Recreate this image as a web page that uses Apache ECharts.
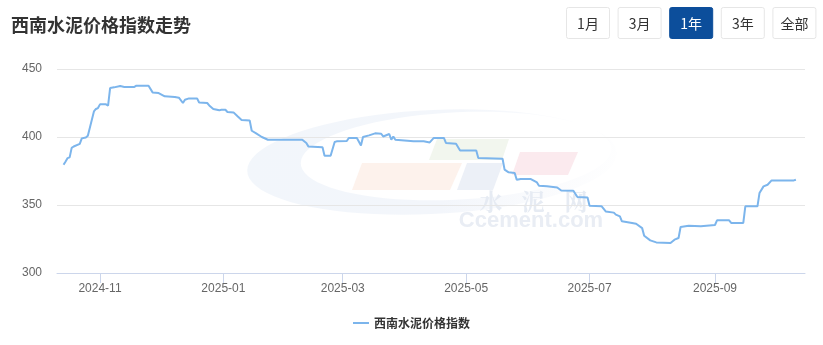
<!DOCTYPE html>
<html>
<head>
<meta charset="utf-8">
<script src="https://cdn.jsdelivr.net/npm/echarts@6/dist/echarts.min.js"></script>
<style>
html,body{margin:0;padding:0;background:#fff;}
#chart{width:823px;height:345px;}
</style>
</head>
<body>
<div id="chart"></div>
<script>
// ---- data ----
const seriesName = '西南水泥价格指数';
const titleText = '西南水泥价格指数走势';
const buttonLabels = ['1月', '3月', '1年', '3年', '全部'];
const activeButton = '1年';
const dates = [
 '2024-10-14','2024-10-15','2024-10-16','2024-10-17','2024-10-18','2024-10-19','2024-10-22','2024-10-23','2024-10-25','2024-10-26',
 '2024-10-29','2024-10-30','2024-10-31','2024-11-01','2024-11-04','2024-11-05','2024-11-06','2024-11-08','2024-11-11','2024-11-13',
 '2024-11-18','2024-11-19','2024-11-25','2024-11-27','2024-11-30','2024-12-03','2024-12-08','2024-12-10','2024-12-12','2024-12-13',
 '2024-12-15','2024-12-19','2024-12-20','2024-12-24','2024-12-25','2024-12-27','2024-12-30','2024-12-31','2025-01-02','2025-01-03',
 '2025-01-06','2025-01-08','2025-01-10','2025-01-14','2025-01-15','2025-01-17','2025-01-20','2025-01-23','2025-02-09','2025-02-11',
 '2025-02-12','2025-02-19','2025-02-20','2025-02-23','2025-02-25','2025-02-26','2025-03-03','2025-03-04','2025-03-08','2025-03-10',
 '2025-03-11','2025-03-14','2025-03-17','2025-03-20','2025-03-21','2025-03-24','2025-03-25','2025-03-26','2025-03-27','2025-04-05',
 '2025-04-10','2025-04-13','2025-04-15','2025-04-20','2025-04-21','2025-04-26','2025-04-28','2025-05-06','2025-05-07','2025-05-19',
 '2025-05-20','2025-05-22','2025-05-25','2025-05-26','2025-05-28','2025-06-02','2025-06-05','2025-06-06','2025-06-10','2025-06-15',
 '2025-06-17','2025-06-23','2025-06-25','2025-06-30','2025-07-01','2025-07-07','2025-07-09','2025-07-13','2025-07-14','2025-07-16',
 '2025-07-17','2025-07-22','2025-07-24','2025-07-27','2025-07-28','2025-07-31','2025-08-03','2025-08-10','2025-08-12','2025-08-14',
 '2025-08-15','2025-08-19','2025-08-25','2025-09-01','2025-09-02','2025-09-08','2025-09-09','2025-09-15','2025-09-16','2025-09-22',
 '2025-09-23','2025-09-25','2025-09-27','2025-09-29','2025-10-10','2025-10-11'
];
const values = [
 379.6,382,384.5,385,392,393,395,399,399.7,401,
 418.8,420.6,421.3,424,424,423,436,436.5,437.5,436.8,
 436.8,437.7,437.7,432.8,432.3,429.9,429.4,428.9,425,427.4,
 428.4,428.4,425.4,425,423.2,420.6,419.6,420,420,418.4,
 418.1,415.2,412.5,412.2,404.6,402.9,400,398,398,395.6,
 393.1,392.4,386.2,386.2,396.3,396.8,397,399.3,399.3,393.8,
 400,401.2,402.7,402.4,400.4,402.2,398,400.4,398,396.8,
 396.8,396,399.3,399.3,395.6,395.1,390,390,384.5,384,
 376,374,373.5,368.6,369.1,369.1,366.6,364.2,363.7,362.9,
 360.7,360.5,355.9,355.6,349.5,349,345.3,344.4,342.9,341.6,
 338,336.8,336.2,333,327.4,324,322.5,322,324.5,325.7,
 333.8,334.8,334.3,335.3,338.7,338.7,336.8,336.8,349,349,
 358.8,363.7,364.9,368.1,368.1,368.6
];
const xTickMonths = ['2024-11','2025-01','2025-03','2025-05','2025-07','2025-09'];
const yMin = 300, yMax = 450, yStep = 50;

// ---- helpers ----
function ts(s){ const p = s.split(/[- :]/).map(Number); return new Date(p[0], p[1]-1, p[2]||1, p[3]||0, p[4]||0).getTime(); }
const tickValues = xTickMonths.map(m => ts(m + '-01'));
const seriesData = dates.map((d, i) => [ts(d), values[i]]);

// watermark crescent
function crescentPoints(){
  const rx = 185, ry = 52, tipT = -35 * Math.PI / 180, k = 0.84;
  const P = [rx * Math.cos(tipT), ry * Math.sin(tipT)];
  const pts = [];
  const n = 80;
  for (let i = 0; i <= n; i++) {
    const t = tipT - (i / n) * Math.PI * 2;
    pts.push([rx * Math.cos(t), ry * Math.sin(t)]);
  }
  for (let i = n; i >= 0; i--) {
    const t = tipT - (i / n) * Math.PI * 2;
    const x = rx * Math.cos(t), y = ry * Math.sin(t);
    pts.push([P[0] + k * (x - P[0]), P[1] + k * (y - P[1])]);
  }
  return pts;
}

const graphics = [];
graphics.push({
  type: 'polygon', z: -10, silent: true,
  x: 432, y: 162, rotation: 0.05,
  shape: { points: crescentPoints() },
  style: {
    fill: {
      type: 'linear', x: 0, y: 0, x2: 1, y2: 1,
      colorStops: [
        { offset: 0, color: '#f2f6fb' },
        { offset: 0.55, color: '#f3f6fb' },
        { offset: 0.8, color: '#fafbfd' },
        { offset: 1, color: '#ffffff' }
      ]
    }
  }
});
const paras = [
  { pts: [[362,163],[462,163],[450,190],[352,190]], c: '#fdf2ec' },
  { pts: [[467,163],[503,163],[493,190],[457,190]], c: '#ecf0f7' },
  { pts: [[437,139],[509,139],[502,160],[429,160]], c: '#f2f6ee' },
  { pts: [[520,152],[578,152],[568,175],[512,175]], c: '#fbeaee' }
];
paras.forEach(p => graphics.push({ type: 'polygon', z: -9, silent: true, shape: { points: p.pts }, style: { fill: p.c } }));
[['水', 491], ['泥', 533], ['网', 576]].forEach(a => graphics.push({
  type: 'text', z: -8, silent: true, x: a[1], y: 201,
  style: { text: a[0], fill: '#e6ebf3', font: 'bold 23px "Noto Serif CJK SC", "Noto Sans CJK SC"', align: 'center', verticalAlign: 'middle' }
}));
graphics.push({
  type: 'text', z: -8, silent: true, x: 531, y: 221,
  style: { text: 'Ccement.com', fill: '#e9edf4', font: 'bold 22px "Liberation Sans", Arial, sans-serif', align: 'center', verticalAlign: 'middle' }
});

const btnX0 = 566, btnStep = 51.6, btnW = 43, btnH = 31, btnY = 7;
buttonLabels.forEach((lab, i) => {
  const active = lab === activeButton;
  graphics.push({
    type: 'group', x: btnX0 + i * btnStep, y: btnY,
    children: [
      { type: 'rect', shape: { x: 0.5, y: 0.5, width: btnW, height: btnH, r: 2 },
        style: { fill: active ? '#0c4e9b' : '#fff', stroke: active ? '#0c4e9b' : '#e6e6e6', lineWidth: 1 } },
      { type: 'text', x: btnW / 2 + 0.5, y: btnH / 2 + 1,
        style: { text: lab, fill: active ? '#fff' : '#333', font: '14px "Noto Sans CJK SC", sans-serif', align: 'center', verticalAlign: 'middle' } }
    ]
  });
});

function fmtMonth(v){ const d = new Date(v); return d.getFullYear() + '-' + String(d.getMonth() + 1).padStart(2, '0'); }

const chart = echarts.init(document.getElementById('chart'), null, { renderer: 'canvas' });
chart.setOption({
  animation: false,
  backgroundColor: '#fff',
  title: {
    text: titleText, left: 6, top: 11,
    textStyle: { fontSize: 18, fontWeight: 'bold', color: '#333', fontFamily: '"Noto Sans CJK SC", sans-serif' }
  },
  legend: {
    data: [seriesName], left: 'center', top: 312,
    icon: 'rect', itemWidth: 16, itemHeight: 2, itemGap: 10,
    textStyle: { fontSize: 12, fontWeight: 'bold', color: '#333', fontFamily: '"Noto Sans CJK SC", sans-serif' }
  },
  grid: { left: 57, right: 18, top: 69, bottom: 72 },
  xAxis: {
    type: 'value',
    min: ts('2024-10-10 18:00'), max: ts('2025-10-15 12:00'),
    axisLine: { show: true, lineStyle: { color: '#ccd6eb', width: 1 } },
    axisTick: { show: true, length: 10, lineStyle: { color: '#ccd6eb' }, customValues: tickValues },
    axisLabel: { customValues: tickValues, margin: 10, color: '#666', fontSize: 12, formatter: fmtMonth },
    splitLine: { show: false }
  },
  yAxis: {
    type: 'value', min: yMin, max: yMax, interval: yStep,
    axisLine: { show: false }, axisTick: { show: false },
    axisLabel: { color: '#666', fontSize: 12, margin: 15 },
    splitLine: { lineStyle: { color: '#e6e6e6' } }
  },
  series: [{
    name: seriesName, type: 'line', data: seriesData,
    showSymbol: false, symbol: 'none',
    lineStyle: { color: '#7cb5ec', width: 2 },
    itemStyle: { color: '#7cb5ec' }
  }],
  graphic: graphics
});
</script>
</body>
</html>
